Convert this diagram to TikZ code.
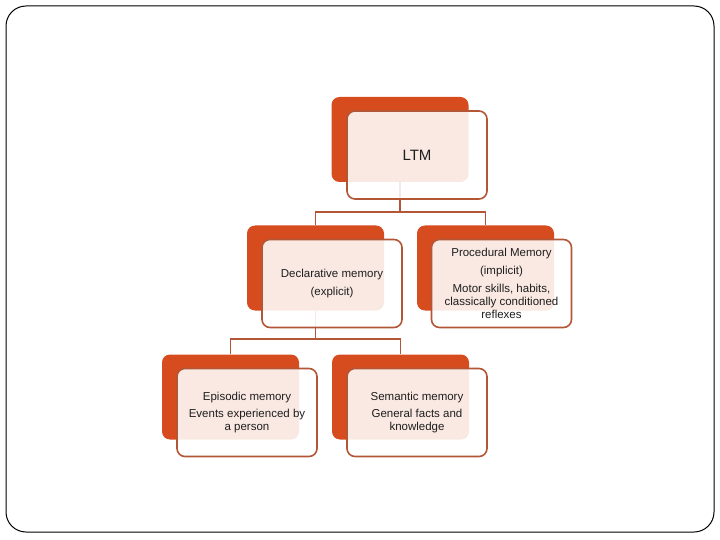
\documentclass[tikz,border=0pt]{standalone}
\usepackage{fontspec}
\setmainfont{Liberation Sans}
\definecolor{backc}{RGB}{214,76,30}
\definecolor{edgec}{RGB}{178,86,54}
\definecolor{txtc}{RGB}{30,30,30}
\begin{document}
\begin{tikzpicture}[x=1pt,y=-1pt,
  backbox/.style={fill=backc, rounded corners=8pt, minimum width=137pt, minimum height=85pt, inner sep=0pt, draw=none},
  frontbox/.style={draw=edgec, line width=1.6pt, fill=white, fill opacity=0.88, text opacity=1, text=txtc, rounded corners=8pt, minimum width=140pt, minimum height=88pt, inner sep=0pt, align=center, font=\fontsize{11.5}{13}\selectfont},
  link/.style={draw=edgec, line width=1.6pt}]
\useasboundingbox (0,0) rectangle (720,540);
\draw[rounded corners=20pt, line width=1pt] (6,6) rectangle (714,532);
% back boxes
\node[backbox] (ltmb) at (400,139.5) {};
\node[backbox] (declb) at (315.5,268) {};
\node[backbox] (procb) at (485.5,268) {};
\node[backbox] (epib) at (230.5,397) {};
\node[backbox] (semb) at (400.5,397) {};
% connectors
\coordinate (j1) at (400,212);
\coordinate (j2) at (315.5,339);
\draw[link] (ltmb.south) -- (j1);
\draw[link] (declb.north) |- (j1) -| (procb.north);
\draw[link] (declb.south) -- (j2);
\draw[link] (epib.north) |- (j2) -| (semb.north);
% front boxes
\node[frontbox, font=\fontsize{15}{17}\selectfont] (ltm) at (417,155) {LTM};
\node[frontbox] (decl) at (332,283.5) {Declarative memory\\[5pt](explicit)};
\node[frontbox] (proc) at (501.5,283.5) {Procedural Memory\\[5pt](implicit)\\[5pt]Motor skills, habits,\\classically conditioned\\reflexes};
\node[frontbox] (epi) at (247,412.5) {Episodic memory\\[4pt]Events experienced by\\a person};
\node[frontbox] (sem) at (417,412.5) {Semantic memory\\[4pt]General facts and\\knowledge};
\end{tikzpicture}
\end{document}
